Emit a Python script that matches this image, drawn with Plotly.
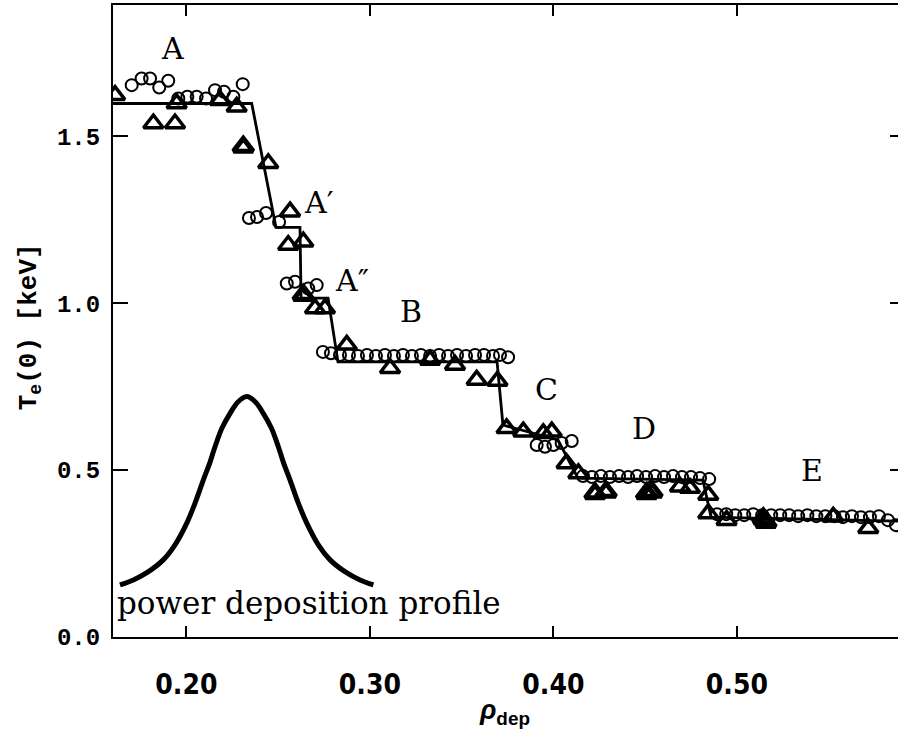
import plotly.graph_objects as go

# ---------------- data ----------------
# step-fit line
step_x = [0.160, 0.2356, 0.2488, 0.2619, 0.2625, 0.2772, 0.2826, 0.3693, 0.3725, 0.3872,
          0.4025, 0.4134, 0.4815, 0.4859, 0.5878]
step_y = [1.598, 1.598, 1.227, 1.227, 1.015, 1.015, 0.824, 0.824, 0.635, 0.614,
          0.590, 0.476, 0.470, 0.359, 0.347]

# open circles
circ_x = [0.1702, 0.1756, 0.1802, 0.1852, 0.1901, 0.1956, 0.2005, 0.2056, 0.2107, 0.2156, 0.2205, 0.2256, 0.2307,
          0.2341, 0.2385, 0.2434, 0.2505,
          0.2547, 0.2592, 0.2664, 0.2710,
          0.2744, 0.2788, 0.2837, 0.2886, 0.2935, 0.2984, 0.3033, 0.3082, 0.3131, 0.3180, 0.3229,
          0.3278, 0.3328, 0.3377, 0.3426, 0.3475, 0.3524, 0.3573, 0.3622, 0.3671, 0.3709, 0.3753,
          0.3909, 0.3954, 0.4000, 0.4045, 0.4100,
          0.4161, 0.4210, 0.4259, 0.4308, 0.4358, 0.4407, 0.4456, 0.4505, 0.4554, 0.4603, 0.4652,
          0.4701, 0.4750, 0.4799, 0.4849,
          0.4892, 0.4942, 0.4991, 0.5040, 0.5089, 0.5138, 0.5187, 0.5236, 0.5285, 0.5334, 0.5384,
          0.5433, 0.5482, 0.5531, 0.5578, 0.5627, 0.5676, 0.5725, 0.5774, 0.5823, 0.5867]
circ_y = [1.653, 1.673, 1.673, 1.646, 1.666, 1.613, 1.618, 1.618, 1.613, 1.638, 1.633, 1.618, 1.656,
          1.255, 1.258, 1.270, 1.243,
          1.059, 1.064, 1.044, 1.054,
          0.854, 0.850, 0.845, 0.845, 0.842, 0.845, 0.842, 0.845, 0.842, 0.845, 0.842,
          0.845, 0.842, 0.845, 0.842, 0.845, 0.842, 0.845, 0.845, 0.842, 0.845, 0.838,
          0.575, 0.570, 0.575, 0.581, 0.587,
          0.482, 0.479, 0.482, 0.479, 0.482, 0.479, 0.482, 0.479, 0.482, 0.479, 0.482,
          0.479, 0.479, 0.476, 0.473,
          0.368, 0.368, 0.365, 0.365, 0.368, 0.365, 0.365, 0.365, 0.365, 0.362, 0.365,
          0.362, 0.362, 0.362, 0.359, 0.362, 0.359, 0.359, 0.362, 0.350, 0.335]

# open triangles
tri_x = [0.1611, 0.1820, 0.1938, 0.1947, 0.2183, 0.2274, 0.2446, 0.2565, 0.2555, 0.2637,
         0.2701, 0.2755, 0.2874, 0.3110, 0.3328, 0.3464, 0.3582, 0.3695, 0.3745, 0.3836,
         0.3945, 0.3991, 0.4072, 0.4136, 0.4690, 0.4744, 0.4844, 0.4844, 0.4944, 0.5525, 0.5716]
tri_y = [1.623, 1.538, 1.538, 1.598, 1.608, 1.588, 1.419, 1.274, 1.174, 1.184,
         0.984, 0.984, 0.875, 0.805, 0.830, 0.815, 0.770, 0.767, 0.625, 0.615,
         0.610, 0.615, 0.520, 0.490, 0.450, 0.446, 0.425, 0.370, 0.350, 0.360, 0.326]
# heavier (overplotted) triangles
trib_x = [0.2310, 0.2637, 0.4227, 0.4287, 0.4508, 0.4537, 0.5144, 0.5158]
trib_y = [1.468, 1.024, 0.430, 0.434, 0.430, 0.434, 0.355, 0.344]

# power deposition profile
pow_x = [0.1638, 0.1711, 0.1791, 0.1874, 0.1938, 0.2002, 0.2047, 0.2092, 0.2129, 0.2156, 0.2194,
         0.2238, 0.2281, 0.2329, 0.2376, 0.2419, 0.2463, 0.2501, 0.2528, 0.2565, 0.2610, 0.2656,
         0.2719, 0.2783, 0.2866, 0.2946, 0.3019]
pow_y = [0.156, 0.171, 0.195, 0.231, 0.276, 0.341, 0.401, 0.470, 0.524, 0.570, 0.626,
         0.670, 0.704, 0.720, 0.704, 0.670, 0.626, 0.570, 0.524, 0.470, 0.401, 0.341,
         0.276, 0.231, 0.195, 0.171, 0.156]

# labels
lab_text = ["A", "B", "C", "D", "E"]
lab_x = [0.1922, 0.3224, 0.3960, 0.4494, 0.5409]
lab_y = [1.762, 0.976, 0.740, 0.626, 0.500]
prime_text = ["A′", "A″"]
prime_x = [0.2630, 0.2799]
prime_y = [1.300, 1.069]

x_ticks = [0.20, 0.30, 0.40, 0.50]
x_ticktext = ["0.20", "0.30", "0.40", "0.50"]
y_ticks = [0.0, 0.5, 1.0, 1.5]
y_ticktext = ["0.0", "0.5", "1.0", "1.5"]

X_RANGE = [0.16, 0.5878]
Y_RANGE = [0.0, 1.893]

# ---------------- figure ----------------
fig = go.Figure()
fig.add_trace(go.Scatter(x=pow_x, y=pow_y, mode="lines", line=dict(color="black", width=5, shape="spline"),
                         hoverinfo="skip"))
fig.add_trace(go.Scatter(x=step_x, y=step_y, mode="lines", line=dict(color="black", width=2.8)))
fig.add_trace(go.Scatter(x=circ_x, y=circ_y, mode="markers",
                         marker=dict(symbol="circle-open", size=12, color="black", line=dict(width=2))))
fig.add_trace(go.Scatter(x=tri_x, y=tri_y, mode="markers",
                         marker=dict(symbol="triangle-up-open", size=17, color="black", line=dict(width=3.5))))
fig.add_trace(go.Scatter(x=trib_x, y=trib_y, mode="markers",
                         marker=dict(symbol="triangle-up-open", size=17, color="black", line=dict(width=5))))
# invisible trace for right-hand ticks
fig.add_trace(go.Scatter(x=[X_RANGE[0]], y=[Y_RANGE[0]], yaxis="y2", mode="markers",
                         marker=dict(opacity=0), hoverinfo="skip"))

serif = "DejaVu Serif, Century Schoolbook, serif"
for t, x, y in zip(lab_text, lab_x, lab_y):
    fig.add_annotation(x=x, y=y, text=t, showarrow=False, xanchor="center", yanchor="middle",
                       font=dict(family=serif, size=30, color="black"))
for t, x, y in zip(prime_text, prime_x, prime_y):
    fig.add_annotation(x=x, y=y, text=t, showarrow=False, xanchor="left", yanchor="middle",
                       font=dict(family=serif, size=30, color="black"))
fig.add_annotation(x=0.1611, y=0.102, text="power deposition profile", showarrow=False,
                   xanchor="left", yanchor="middle", font=dict(family=serif, size=31, color="black"))

# axis titles
fig.add_annotation(xref="paper", yref="paper", x=-0.1057, y=0.49, text="<b>T<sub>e</sub>(0) [keV]</b>",
                   textangle=-90, showarrow=False, xanchor="center", yanchor="middle",
                   font=dict(family="Liberation Mono, DejaVu Sans Mono, monospace", size=26, color="black"))
fig.add_annotation(xref="paper", yref="paper", x=0.499, y=-0.118, text="<b><i>ρ</i><sub>dep</sub></b>",
                   showarrow=False, xanchor="center", yanchor="middle",
                   font=dict(family="Liberation Sans, Arial, sans-serif", size=27, color="black"))

fig.update_layout(
    width=898, height=730,
    margin=dict(l=113, r=0, t=5, b=93),
    plot_bgcolor="white", paper_bgcolor="white",
    showlegend=False,
    xaxis=dict(range=X_RANGE, tickvals=x_ticks, ticktext=x_ticktext, ticks="inside", ticklen=11,
               tickwidth=2, tickcolor="black", showline=True, linewidth=2, linecolor="black",
               mirror="ticks", showgrid=False, zeroline=False, ticklabelstandoff=21, automargin=False,
               tickfont=dict(family="Liberation Sans Narrow, DejaVu Sans Condensed, Arial Narrow, sans-serif",
                             size=28, color="black", weight="bold")),
    yaxis=dict(range=Y_RANGE, tickvals=y_ticks, ticktext=y_ticktext, ticks="inside", ticklen=15,
               tickwidth=2, tickcolor="black", showline=True, linewidth=2, linecolor="black",
               mirror=False, showgrid=False, zeroline=False, ticklabelstandoff=6, automargin=False,
               tickfont=dict(family="Liberation Mono, DejaVu Sans Mono, monospace", size=24,
                             color="black", weight="bold")),
    yaxis2=dict(range=Y_RANGE, overlaying="y", side="right", tickvals=y_ticks, ticks="inside",
                ticklen=8, tickwidth=2, tickcolor="black", showticklabels=False, showline=False,
                showgrid=False, zeroline=False, automargin=False),
)

fig.write_html("out.html", config={"displayModeBar": False},
               post_script="document.body.style.margin='0px';document.body.style.overflow='hidden';")
